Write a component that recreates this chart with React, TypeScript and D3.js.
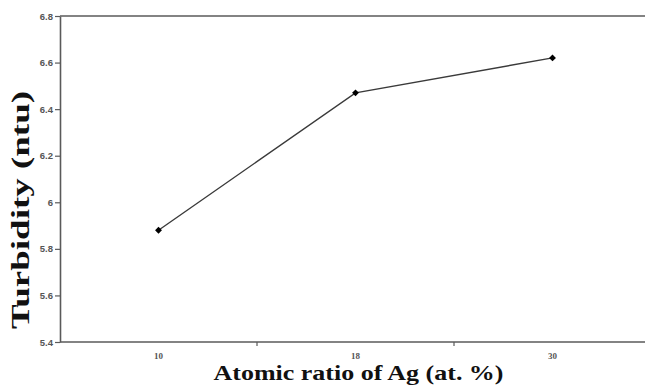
import React, { useEffect, useRef } from "react";
import * as d3 from "d3";

const categories = ["10", "18", "30"];
const turbidity = [5.88, 6.47, 6.62];
const yTicks = [5.4, 5.6, 5.8, 6, 6.2, 6.4, 6.6, 6.8];

const width = 645;
const height = 385;

const App = () => {
  const svgRef = useRef<SVGSVGElement>(null);

  useEffect(() => {
    const svg = d3.select(svgRef.current);
    svg.selectAll("*").remove();

    const left = 60;
    const right = 651;
    const top = 16;
    const bottom = 342;
    const axisColor = "#5a5a5a";

    const xScale = d3.scaleBand().domain(categories).range([left, right]).padding(0);
    const yScale = d3.scaleLinear().domain([5.4, 6.8]).range([bottom, top]);
    const cx = (c: string) => xScale(c)! + xScale.bandwidth() / 2;

    // frame: top border line
    svg
      .append("line")
      .attr("x1", left)
      .attr("x2", right)
      .attr("y1", top)
      .attr("y2", top)
      .attr("stroke", axisColor)
      .attr("stroke-width", 1.6);

    const yAxis = d3
      .axisLeft(yScale)
      .tickValues(yTicks)
      .tickFormat((d) => d3.format("")(d as number))
      .tickSizeInner(5)
      .tickSizeOuter(0)
      .tickPadding(2);

    const gy = svg
      .append("g")
      .attr("transform", `translate(${left}, 0)`)
      .call(yAxis);
    gy.select(".domain").attr("stroke", axisColor).attr("stroke-width", 1.6);
    gy.selectAll(".tick line").attr("stroke", axisColor).attr("stroke-width", 1.2);
    gy.selectAll("text")
      .attr("font-family", "Liberation Sans, Arial, sans-serif")
      .attr("font-size", "9.5px")
      .attr("font-weight", "bold")
      .attr("fill", "#555");

    // x axis: ticks sit on band boundaries, labels at band centres
    const gx = svg.append("g").attr("transform", `translate(0, ${bottom})`);
    gx.append("line")
      .attr("x1", left)
      .attr("x2", right)
      .attr("y1", 0)
      .attr("y2", 0)
      .attr("stroke", axisColor)
      .attr("stroke-width", 1.6);
    gx.selectAll("line.tick")
      .data(categories.slice(1))
      .join("line")
      .attr("class", "tick")
      .attr("x1", (d) => xScale(d)!)
      .attr("x2", (d) => xScale(d)!)
      .attr("y1", 0)
      .attr("y2", 4)
      .attr("stroke", axisColor)
      .attr("stroke-width", 1.2);
    gx.selectAll("text")
      .data(categories)
      .join("text")
      .attr("x", (d) => cx(d))
      .attr("y", 17)
      .attr("text-anchor", "middle")
      .attr("font-family", "Liberation Serif, Times New Roman, serif")
      .attr("font-size", "9px")
      .attr("font-weight", "bold")
      .attr("fill", "#555")
      .text((d) => d);

    const line = d3
      .line<number>()
      .x((d, i) => cx(categories[i]))
      .y((d) => yScale(d));

    svg
      .append("path")
      .datum(turbidity)
      .attr("d", line)
      .attr("fill", "none")
      .attr("stroke", "#3a3a3a")
      .attr("stroke-width", 1.4);

    svg
      .selectAll("path.marker")
      .data(turbidity)
      .join("path")
      .attr("class", "marker")
      .attr("d", d3.symbol().type(d3.symbolDiamond2).size(30))
      .attr("transform", (d, i) => `translate(${cx(categories[i])}, ${yScale(d)})`)
      .attr("fill", "#000");

    // axis titles
    svg
      .append("text")
      .attr("x", (left + right) / 2 + 3)
      .attr("y", 380)
      .attr("text-anchor", "middle")
      .attr("font-family", "Liberation Serif, Times New Roman, serif")
      .attr("font-size", "21px")
      .attr("font-weight", "bold")
      .attr("fill", "#111")
      .attr("textLength", 290)
      .attr("lengthAdjust", "spacingAndGlyphs")
      .text("Atomic ratio of Ag (at. %)");

    svg
      .append("text")
      .attr("transform", `translate(29, 210) rotate(-90)`)
      .attr("text-anchor", "middle")
      .attr("font-family", "Liberation Serif, Times New Roman, serif")
      .attr("font-size", "25px")
      .attr("font-weight", "bold")
      .attr("fill", "#111")
      .attr("textLength", 238)
      .attr("lengthAdjust", "spacingAndGlyphs")
      .text("Turbidity (ntu)");
  }, []);

  return (
    <svg
      ref={svgRef}
      width={width}
      height={height}
      style={{ position: "absolute", left: 0, top: 0, background: "#fff" }}
    ></svg>
  );
};

export default App;
